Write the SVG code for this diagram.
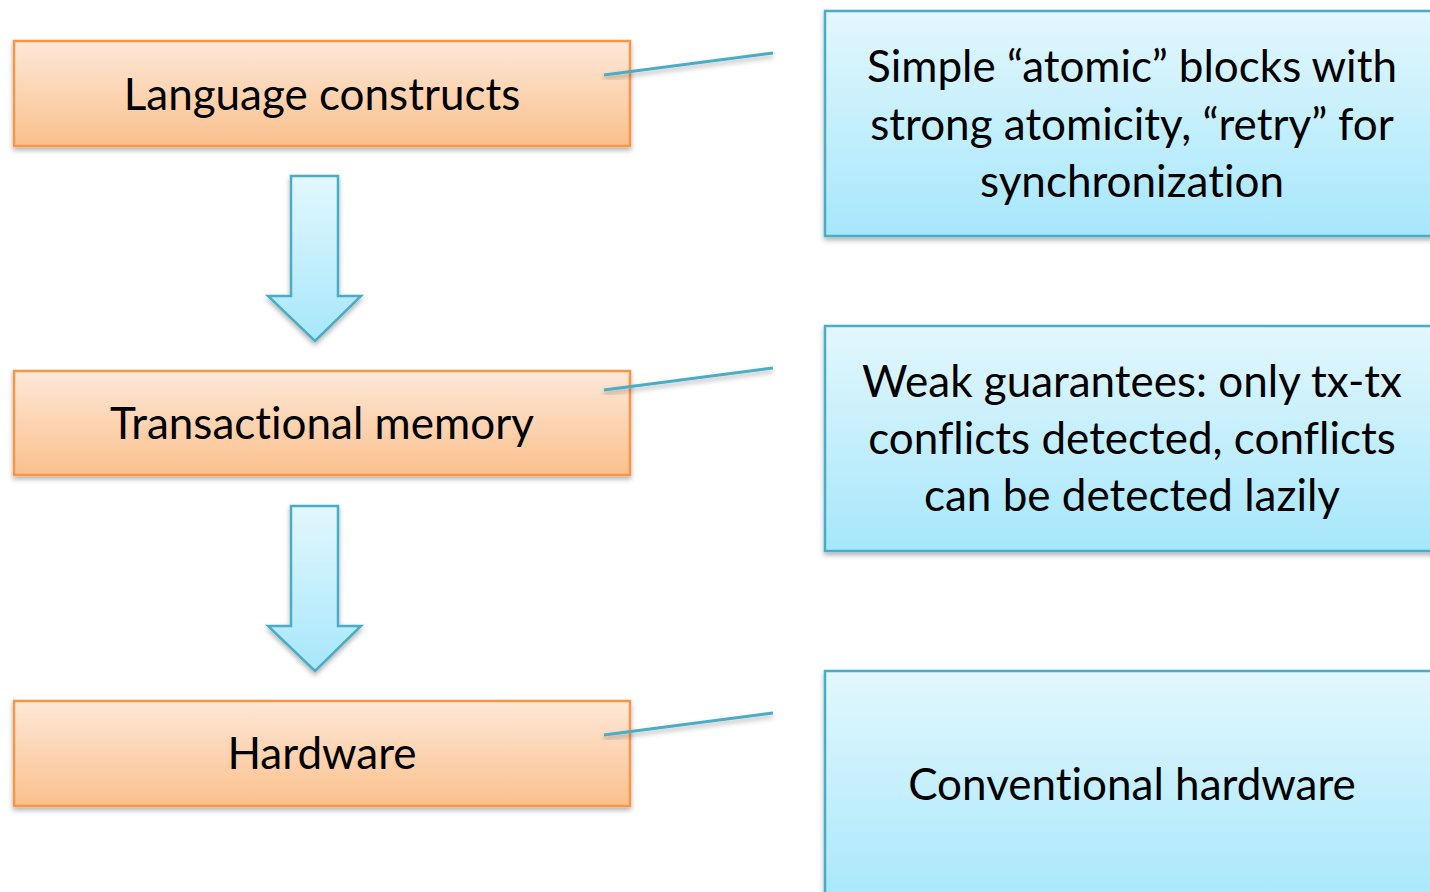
<svg xmlns="http://www.w3.org/2000/svg" width="1430" height="892" viewBox="0 0 1430 892">
<defs>
<linearGradient id="og" x1="0" y1="0" x2="0" y2="1"><stop offset="0" stop-color="#fde8d8"/><stop offset="1" stop-color="#fbc08c"/></linearGradient>
<linearGradient id="bg" x1="0" y1="0" x2="0" y2="1"><stop offset="0" stop-color="#e3f7fd"/><stop offset="1" stop-color="#a6e7fb"/></linearGradient>
<filter id="sh" x="-10%" y="-10%" width="120%" height="130%"><feDropShadow dx="0" dy="3" stdDeviation="2.5" flood-color="#000" flood-opacity="0.3"/></filter>
<style>
.ob{fill:url(#og);stroke:#f79646;stroke-width:2.5;filter:url(#sh)}
.bb{fill:url(#bg);stroke:#4bacc6;stroke-width:2.5;filter:url(#sh)}
.ar{fill:url(#bg);stroke:#4bacc6;stroke-width:2.5;stroke-linejoin:miter;filter:url(#sh)}
.ln{stroke:#4bacc6;stroke-width:3;fill:none;filter:url(#sh)}
text{font-family:Lato,"Liberation Sans",sans-serif;font-size:44px;fill:#000;text-anchor:middle;font-variant-ligatures:none;font-feature-settings:"liga" 0,"clig" 0,"dlig" 0,"calt" 0}
</style>
</defs>
<g id="lang"><rect class="ob" x="14" y="41" width="616" height="105"/><text x="322" y="110">Language constructs</text></g>
<g id="tm"><rect class="ob" x="14" y="371" width="616" height="104"/><text x="322" y="439">Transactional memory</text></g>
<g id="hw"><rect class="ob" x="14" y="701" width="616" height="105"/><text x="322" y="769">Hardware</text></g>
<g id="d1"><rect class="bb" x="825" y="11" width="614" height="225"/><text x="1132" y="82">Simple “atomic” blocks with</text><text x="1132" y="140">strong atomicity, “retry” for</text><text x="1132" y="197">synchronization</text></g>
<g id="d2"><rect class="bb" x="825" y="326" width="614" height="225"/><text x="1132" y="397">Weak guarantees: only tx-tx</text><text x="1132" y="454">conflicts detected, conflicts</text><text x="1132" y="511">can be detected lazily</text></g>
<g id="d3"><rect class="bb" x="825" y="671" width="614" height="240"/><text x="1132" y="800">Conventional hardware</text></g>
<g id="connectors">
<path class="ar" d="M291 176H338V296H361L315 341L268 296H291Z"/>
<path class="ar" d="M291 506H338V626H361L315 671L268 626H291Z"/>
<line class="ln" x1="604" y1="75" x2="773" y2="53"/>
<line class="ln" x1="604" y1="390" x2="773" y2="368"/>
<line class="ln" x1="604" y1="735" x2="773" y2="713"/>
</g>
</svg>
